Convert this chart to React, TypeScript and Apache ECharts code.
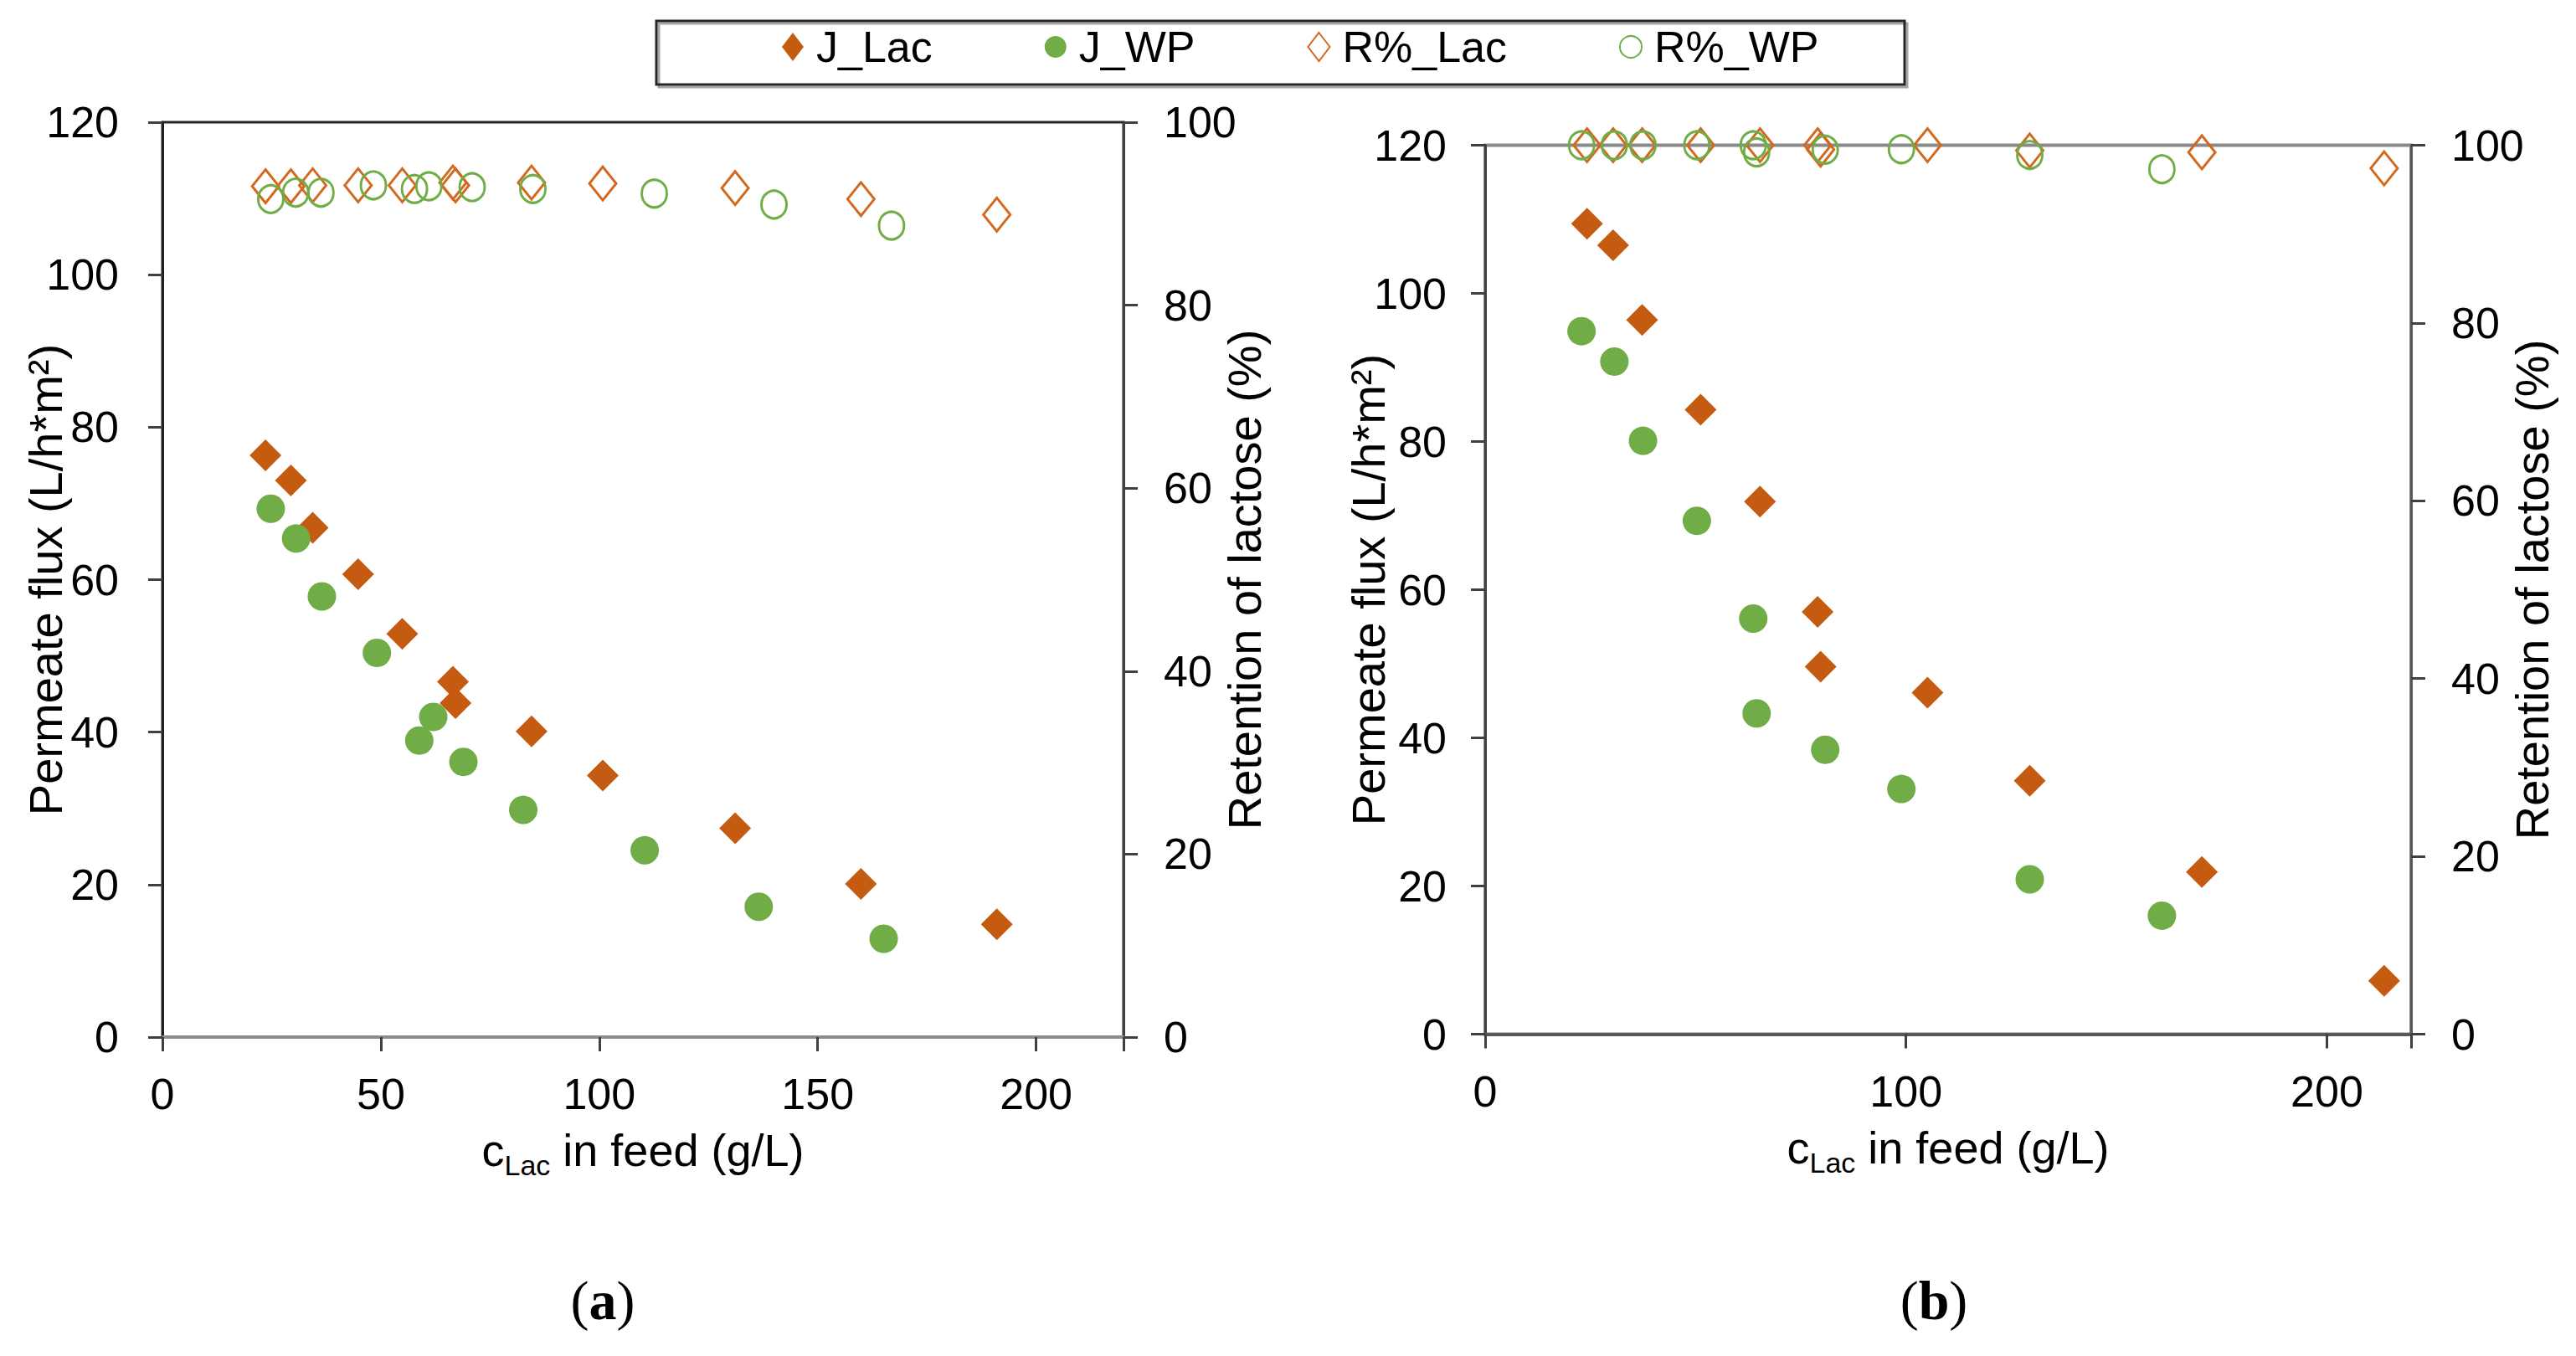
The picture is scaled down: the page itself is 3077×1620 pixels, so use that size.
import React, { useEffect, useRef } from 'react';
import * as echarts from 'echarts';

// panel (a): flux (L/h*m2) and retention (%) vs lactose in feed (g/L)
const aLacX = [23.6, 29.4, 34.4, 44.8, 54.9, 66.5, 67.1, 84.5, 100.8, 131.1, 159.9, 191.0];
const aLacJ = [76.3, 73.0, 66.8, 60.7, 52.9, 46.6, 43.8, 40.1, 34.3, 27.4, 20.1, 14.8];
const aLacR = [93.0, 93.0, 93.1, 93.1, 93.1, 93.4, 93.1, 93.4, 93.3, 92.8, 91.6, 89.9];
const aWpX = [24.8, 30.6, 36.5, 49.1, 62.0, 58.8, 68.9, 82.6, 110.4, 136.5, 165.1];
const aWpJ = [69.3, 65.4, 57.8, 50.4, 42.0, 38.9, 36.1, 29.8, 24.5, 17.1, 12.9];
const aWpRX = [24.8, 30.5, 36.3, 48.3, 57.7, 61.0, 70.9, 84.8, 112.6, 140.0, 166.9];
const aWpR = [91.6, 92.3, 92.3, 93.1, 92.7, 93.0, 92.9, 92.7, 92.2, 91.0, 88.7];

// panel (b)
const bLacX = [24.2, 30.4, 37.3, 51.2, 65.3, 79.0, 79.7, 105.1, 129.4, 170.3, 213.6];
const bLacJ = [109.4, 106.5, 96.4, 84.3, 71.9, 57.0, 49.6, 46.1, 34.2, 21.9, 7.2];
const bLacR = [100, 100, 100, 100, 100, 100, 99.5, 100, 99.4, 99.2, 97.4];
const bWpX = [22.9, 30.7, 37.5, 50.3, 63.7, 64.5, 80.8, 98.9, 129.4, 160.8];
const bWpJ = [94.9, 90.8, 80.1, 69.3, 56.1, 43.3, 38.4, 33.1, 20.9, 16.0];
const bWpR = [100, 100, 100, 100, 100, 99.2, 99.5, 99.55, 98.9, 97.3];

const legendNames = ['J_Lac', 'J_WP', 'R%_Lac', 'R%_WP'];
const xTitle = '{c|c}{s|Lac}{t| in feed (g/L)}';
const yLeftTitle = 'Permeate flux (L/h*m²)';
const yRightTitle = 'Retention of lactose (%)';

const ORANGE = '#C55A11';
const GREEN = '#70AD47';
const FONT = "'Liberation Sans', Arial, sans-serif";
const SERIF = "'Liberation Serif', 'Times New Roman', serif";

const pts = (xs: number[], ys: number[]) => xs.map((x, i) => [x, ys[i]]);

const dot = (name: string, symbol: string, size: any, color: string, xi: number, yi: number, data: number[][]) => ({
  type: 'scatter', name, symbol, symbolSize: size, xAxisIndex: xi, yAxisIndex: yi, data, clip: false,
  itemStyle: { color, opacity: 1 }, z: 3,
});
const ring = (name: string, symbol: string, size: any, color: string, xi: number, yi: number, data: number[][]) => ({
  type: 'scatter', name, symbol, symbolSize: size, xAxisIndex: xi, yAxisIndex: yi, data, clip: false,
  itemStyle: { color: 'rgba(255,255,255,0)', borderColor: color, borderWidth: 3, opacity: 1 }, z: 4,
});

const xAxisFor = (gridIndex: number, step: number, lineColor: string) => ({
  type: 'value', gridIndex, min: 0, max: 220, interval: step,
  name: xTitle, nameLocation: 'middle', nameGap: 100,
  nameTextStyle: {
    rich: {
      c: { fontSize: 54, fontFamily: FONT, color: '#000', lineHeight: 70 },
      s: { fontSize: 34, fontFamily: FONT, color: '#000', lineHeight: 34, verticalAlign: 'bottom' },
      t: { fontSize: 54, fontFamily: FONT, color: '#000', lineHeight: 70 },
    },
  },
  axisLine: { show: true, onZero: false, lineStyle: { color: lineColor, width: 4 } },
  axisTick: { show: true, length: 17, lineStyle: { color: '#404040', width: 3 } },
  axisLabel: {
    fontSize: 52, color: '#000', fontFamily: FONT, margin: 42,
    formatter: (v: number) => (v % step === 0 ? String(v) : ''),
  },
  splitLine: { show: false },
});

const yAxisFor = (gridIndex: number, position: string, max: number, name: string, lineColor: string, gap: number, margin: number) => ({
  type: 'value', gridIndex, position, min: 0, max, interval: 20,
  name, nameLocation: 'middle', nameGap: gap, nameMoveOverlap: false,
  nameTextStyle: { fontSize: 56, color: '#000', fontFamily: FONT },
  axisLine: { show: true, lineStyle: { color: lineColor, width: 3 } },
  axisTick: { show: true, length: 17, lineStyle: { color: '#404040', width: 3 } },
  axisLabel: { fontSize: 52, color: '#000', fontFamily: FONT, margin },
  splitLine: { show: false },
});

const panelLabel = (x: number, letter: string) => ({
  type: 'text', x, y: 1553,
  style: {
    text: '{p|(}{b|' + letter + '}{p|)}',
    align: 'center', verticalAlign: 'middle', textAlign: 'center', textVerticalAlign: 'middle',
    rich: {
      p: { fontFamily: SERIF, fontSize: 66, fill: '#000' },
      b: { fontFamily: SERIF, fontSize: 66, fontWeight: 'bold', fill: '#000' },
    },
  },
});

export default function App() {
  const ref = useRef<HTMLDivElement | null>(null);

  useEffect(() => {
    document.body.style.margin = '0';
    if (!ref.current) return;
    const chart = echarts.init(ref.current, undefined, { renderer: 'svg' });
    chart.setOption({
      animation: false,
      backgroundColor: '#fff',
      textStyle: { fontFamily: FONT },
      legend: {
        data: legendNames, left: 934, top: 30, padding: 0,
        itemWidth: 26, itemHeight: 34, itemGap: 134,
        textStyle: { fontSize: 52, color: '#000', fontFamily: FONT, padding: [0, 0, 0, 10] },
      },
      grid: [
        { left: 194, top: 146, width: 1148, height: 1093, show: true, borderColor: '#262626', borderWidth: 3 },
        { left: 1774, top: 173.5, width: 1106, height: 1062, show: true, borderColor: '#8a8a8a', borderWidth: 4 },
      ],
      xAxis: [
        xAxisFor(0, 50, '#8c8c8c'),
        xAxisFor(1, 100, '#595959'),
      ],
      yAxis: [
        yAxisFor(0, 'left', 120, yLeftTitle, '#1f1f1f', 112, 52),
        yAxisFor(0, 'right', 100, yRightTitle, '#404040', 116, 48),
        yAxisFor(1, 'left', 120, yLeftTitle, '#404040', 112, 46),
        yAxisFor(1, 'right', 100, yRightTitle, '#595959', 116, 48),
      ],
      series: [
        dot('J_Lac', 'diamond', 38, ORANGE, 0, 0, pts(aLacX, aLacJ)),
        dot('J_WP', 'circle', 34, GREEN, 0, 0, pts(aWpX, aWpJ)),
        ring('R%_Lac', 'diamond', [32, 40], '#D2691E', 0, 1, pts(aLacX, aLacR)),
        ring('R%_WP', 'circle', [30, 33], GREEN, 0, 1, pts(aWpRX, aWpR)),
        dot('J_Lac', 'diamond', 38, ORANGE, 1, 2, pts(bLacX, bLacJ)),
        dot('J_WP', 'circle', 34, GREEN, 1, 2, pts(bWpX, bWpJ)),
        ring('R%_Lac', 'diamond', [32, 40], '#D2691E', 1, 3, pts(bLacX, bLacR)),
        ring('R%_WP', 'circle', [30, 33], GREEN, 1, 3, pts(bWpX, bWpR)),
      ],
      graphic: [
        { type: 'rect', z: 0, shape: { x: 787, y: 28, width: 1491, height: 76 }, style: { fill: 'none', stroke: '#a6a6a6', lineWidth: 3 } },
        { type: 'rect', z: 1, shape: { x: 784, y: 25, width: 1491, height: 76 }, style: { fill: 'none', stroke: '#262626', lineWidth: 3 } },
        panelLabel(720, 'a'),
        panelLabel(2310, 'b'),
      ],
    });
    return () => { chart.dispose(); };
  }, []);

  return <div ref={ref} style={{ width: 3077, height: 1620 }} />;
}
